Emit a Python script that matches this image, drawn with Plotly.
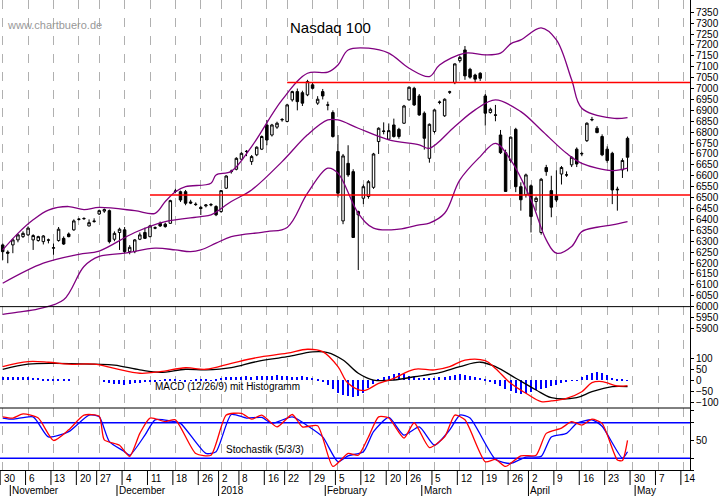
import pandas as pd
import plotly.graph_objects as go
from plotly.subplots import make_subplots

# ---------------- data ----------------
holidays = ["2017-11-23", "2017-12-25", "2018-01-01", "2018-01-15", "2018-02-19", "2018-03-30"]
opens = [6283,6250,6283,6306,6321,6329,6306,6303,6298,6306,6268,6303,6313,6333,6352,6400,6403,6370,6390,6425,6438,
         6440,6309,6340,6352,6252,6252,6309,6340,6321,6362,6382,6378,6382,6528,6527,6527,6480,6470,6455,6462,6466,6459,
         6436,6543,6619,6630,6676,6711,6665,6696,6722,6833,6787,6823,6856,6849,6948,6986,6981,6971,7017,6933,6986,6925,
         6890,6711,6393,6657,6619,6421,6497,6505,6547,6757,6803,6768,6833,6813,6841,6948,7001,6966,6887,
         6680,6803,6936,6875,6983,7027,7128,7177,7088,7062,7070,6966,6890,6879,6787,6706,6670,6813,6550,6513,
         6554,6482,6340,6638,6532,6508,6608,6604,6650,6722,6700,6761,6856,6818,6780,6722,6703,6535,6627,6772]
highs = [6290,6258,6312,6335,6345,6368,6332,6325,6328,6312,6290,6365,6322,6340,6400,6406,6410,6400,6405,6445,6450,
         6445,6345,6362,6365,6282,6310,6340,6362,6375,6368,6390,6385,6490,6540,6532,6535,6490,6478,6462,6470,6475,6465,
         6535,6602,6628,6685,6708,6718,6695,6735,6785,6856,6838,6848,6865,6930,6990,7000,6990,7040,7030,6965,6998,6940,
         6900,6787,6700,6740,6630,6440,6560,6580,6705,6822,6845,6840,6862,6820,6925,7010,7008,6975,6895,
         6840,6905,6945,6955,6990,7115,7150,7195,7095,7068,7075,6975,6912,6925,6810,6720,6780,6820,6570,6610,
         6560,6505,6590,6650,6600,6625,6645,6620,6690,6730,6710,6845,6870,6828,6790,6735,6710,6550,6680,6780]
lows = [6214,6199,6245,6295,6315,6325,6260,6298,6285,6290,6238,6298,6283,6318,6348,6395,6398,6368,6385,6420,6430,
        6290,6300,6260,6245,6240,6245,6305,6310,6318,6355,6365,6362,6380,6520,6480,6465,6470,6462,6420,6455,6460,6415,
        6430,6540,6610,6625,6670,6690,6650,6690,6718,6740,6780,6815,6848,6845,6940,6900,6920,6965,6995,6925,6950,6900,
        6775,6500,6378,6595,6315,6168,6470,6495,6540,6700,6790,6765,6775,6770,6838,6945,6920,6875,6720,
        6660,6795,6928,6870,6975,7020,7120,7040,7045,7030,7035,6830,6885,6850,6700,6528,6660,6525,6440,6500,
        6340,6440,6330,6600,6410,6480,6560,6595,6640,6640,6690,6755,6850,6795,6690,6660,6470,6440,6590,6620]
closes = [6252,6245,6306,6329,6336,6360,6326,6321,6324,6305,6270,6355,6287,6321,6393,6401,6404,6385,6392,6440,6445,
          6298,6336,6355,6252,6272,6306,6329,6313,6370,6360,6370,6367,6486,6530,6489,6474,6475,6468,6450,6466,6468,6421,
          6532,6599,6621,6680,6703,6712,6688,6731,6780,6764,6833,6841,6858,6925,6986,6940,6933,7032,7001,6951,6966,6924,
          6780,6520,6691,6604,6317,6436,6550,6573,6700,6818,6805,6807,6780,6780,6920,7006,6925,6879,6772,
          6836,6902,6938,6951,6985,7113,7143,7058,7052,7043,7047,6887,6905,6878,6706,6528,6777,6550,6490,6604,
          6413,6497,6584,6619,6456,6489,6638,6604,6685,6654,6702,6841,6858,6798,6696,6670,6535,6538,6670,6685]

# Bollinger bands (trading-day index, value)
bb_up_i = [0,3,6,9,13,16,19,26,30,32,34,36,41,42,45,49,55,60,64,66,68,72,76,80,84,86,91,95,98,100,102,106,109,112,114,120,123]
bb_up_v = [6260,6336,6398,6443,6459,6445,6455,6440,6428,6482,6527,6550,6566,6604,6620,6734,6948,7070,7075,7108,7177,7185,7162,7093,7055,7108,7162,7154,7162,7205,7223,7278,7223,7040,6910,6864,6867]
bb_mid_i = [0,8,15,19,26,32,39,41,45,49,55,60,64,66,70,76,82,84,89,93,97,102,106,111,114,120,123]
bb_mid_v = [6107,6199,6240,6255,6340,6390,6413,6421,6482,6535,6665,6788,6856,6856,6818,6765,6742,6726,6826,6902,6948,6894,6810,6703,6657,6624,6635]
bb_lo_i = [0,3,7,12,16,19,24,30,34,37,39,42,45,52,56,60,64,66,70,73,78,82,84,87,90,94,97,100,104,107,109,112,114,117,120,123]
bb_lo_v = [5965,5975,5990,6031,6184,6230,6245,6268,6260,6252,6260,6291,6321,6344,6363,6520,6635,6612,6428,6360,6355,6375,6383,6428,6581,6688,6749,6673,6490,6306,6245,6276,6344,6364,6375,6390]

# MACD
macd_i = [0,5,9,13,18,22,27,31,36,40,45,50,56,60,63,66,68,71,74,77,81,85,88,91,95,97,100,103,106,108,111,114,116,118,121,123]
macd_v = [63,86,83,74,74,55,33,40,58,51,78,104,124,142,131,63,-13,-46,-13,10,51,48,63,93,90,55,-13,-58,-96,-93,-81,-51,-10,-5,-25,-23]
sig_i = [0,5,10,18,22,27,31,36,40,45,50,56,61,64,67,70,73,77,81,86,90,94,97,101,105,108,113,116,120,123]
sig_v = [51,74,78,74,70,48,37,51,48,58,86,108,130,127,93,33,2,2,17,36,63,83,63,10,-43,-78,-78,-51,-28,-28]
hist = [15,15,16,17,15,14,13,12,8,5,4,3,3,3,
        0,0,0,0,0,0,
        -8,-10,-14,-18,-20,-15,-12,-10,-8,-5,
        -3,2,4,5,3,-2,-3,2,4,6,3,2,
        8,12,15,16,18,18,19,18,20,20,19,22,24,22,20,18,18,20,16,10,5,
        -5,-20,-40,-55,-65,-72,-75,-70,-55,-35,-15,
        5,15,22,30,33,28,20,15,
        12,10,10,12,15,18,22,25,28,25,22,18,10,5,
        -5,-15,-25,-38,-48,-55,-60,-58,-50,-45,-40,-35,-25,
        -20,-12,-5,-2,2,
        15,25,35,40,35,25,12,
        5,3,2]

# Stochastik
stk_i = [0,2,4,7,10,13,16,19,20,23,25,27,29,32,34,38,41,44,47,49,51,54,57,59,62,65,68,70,72,74,76,79,81,84,87,89,91,95,97,99,102,105,107,110,112,114,116,118,121,122,123]
stk_v = [90,88,95,88,50,68,93,91,51,42,23,62,88,82,85,28,25,93,96,86,93,73,94,73,75,6,28,25,56,90,88,54,80,38,56,93,85,14,18,6,24,25,62,71,82,76,86,79,17,16,50]
std_i = [0,2,6,9,13,17,19,21,24,25,28,30,33,35,40,42,45,48,51,53,57,60,63,66,68,71,73,76,79,82,85,88,90,92,97,100,103,106,108,111,113,116,118,122,123]
std_v = [88,86,90,56,65,93,90,48,31,25,59,85,83,79,28,31,94,88,89,79,90,75,56,14,24,31,65,89,59,73,42,68,93,88,18,11,22,23,56,62,79,85,74,20,31]

levels = [7028, 6512]
level_start = [56, 29]

months = ["November", "December", "2018", "February", "March", "April", "May"]
month_first = ["2017-11-01", "2017-12-01", "2018-01-02", "2018-02-01", "2018-03-01", "2018-04-02", "2018-05-01"]

# ---------------- build ----------------
all_days = pd.bdate_range("2017-10-30", "2018-05-31")
all_days = all_days[~all_days.isin(pd.to_datetime(holidays))]
pos = {d: i for i, d in enumerate(all_days)}
N = len(closes)
x = list(range(N))

tickvals, ticktext, prev_week = [], [], None
for d, i in pos.items():
    wk = d.isocalendar()[1]
    if wk != prev_week:
        tickvals.append(i)
        ticktext.append(str(d.day))
        prev_week = wk
    if i > 140:
        break

fig = make_subplots(rows=3, cols=1, shared_xaxes=True, vertical_spacing=0)
H = 470.0

fig.add_trace(go.Candlestick(x=x, open=opens, high=highs, low=lows, close=closes,
                             increasing=dict(line=dict(color="black", width=1), fillcolor="white"),
                             decreasing=dict(line=dict(color="black", width=1), fillcolor="black"),
                             whiskerwidth=0, showlegend=False), row=1, col=1)
for xi, yv in [(bb_up_i, bb_up_v), (bb_mid_i, bb_mid_v), (bb_lo_i, bb_lo_v)]:
    fig.add_trace(go.Scatter(x=xi, y=yv, mode="lines", line=dict(color="#800080", width=1.3, shape="spline"),
                             showlegend=False, hoverinfo="skip"), row=1, col=1)
for lv, st in zip(levels, level_start):
    fig.add_trace(go.Scatter(x=[st, 136], y=[lv, lv], mode="lines", line=dict(color="red", width=1.5),
                             showlegend=False), row=1, col=1)
fig.add_trace(go.Scatter(x=[-1, 136], y=[6000, 6000], mode="lines", line=dict(color="black", width=1),
                         showlegend=False), row=1, col=1)

fig.add_trace(go.Bar(x=x, y=hist, marker=dict(color="blue", line=dict(width=0)), width=0.25,
                     showlegend=False), row=2, col=1)
fig.add_trace(go.Scatter(x=sig_i, y=sig_v, mode="lines", line=dict(color="black", width=1.3, shape="spline"),
                         showlegend=False), row=2, col=1)
fig.add_trace(go.Scatter(x=macd_i, y=macd_v, mode="lines", line=dict(color="red", width=1.3, shape="spline"),
                         showlegend=False), row=2, col=1)

for lv in (80, 20):
    fig.add_trace(go.Scatter(x=[-1, 136], y=[lv, lv], mode="lines", line=dict(color="blue", width=1.5),
                             showlegend=False), row=3, col=1)
fig.add_trace(go.Scatter(x=std_i, y=std_v, mode="lines", line=dict(color="blue", width=1.3, shape="spline", smoothing=0.6),
                         showlegend=False), row=3, col=1)
fig.add_trace(go.Scatter(x=stk_i, y=stk_v, mode="lines", line=dict(color="red", width=1.3, shape="spline", smoothing=0.6),
                         showlegend=False), row=3, col=1)

font = "Liberation Sans, Arial, sans-serif"
xr = [-0.53, 135.3]
for r in (1, 2, 3):
    fig.update_xaxes(row=r, col=1, range=xr, tickvals=tickvals,
                     showgrid=True, gridcolor="#b0b0b0", griddash="dash", gridwidth=1,
                     zeroline=False, rangeslider_visible=False, showline=False,
                     showticklabels=False)
fig.update_xaxes(row=3, col=1, showline=True, linecolor="black", linewidth=1)

fig.update_yaxes(side="right", showgrid=False, zeroline=False, ticks="outside", ticklen=3,
                 tickcolor="black", showline=True, linecolor="black",
                 tickfont=dict(size=10, family=font, color="black"))
fig.update_yaxes(row=1, col=1, range=[5847, 7406], tickvals=list(range(5900, 7400, 50)),
                 domain=[130/H, 1])
fig.update_yaxes(row=2, col=1, range=[-125, 184], tickvals=[-100, -50, 0, 50, 100],
                 domain=[62/H, 130/H])
fig.update_yaxes(row=3, col=1, range=[0, 105], tickvals=[0, 20, 50, 80, 100],
                 ticktext=["", "", "50", "", ""], domain=[0, 62/H])

shapes = [dict(type="line", xref="paper", yref="paper", x0=0, x1=1, y0=62/H, y1=62/H,
               line=dict(color="black", width=1))]
annotations = [
    dict(text="Nasdaq 100", x=330/690, y=1 - 17/H, xref="paper", yref="paper", showarrow=False,
         font=dict(size=15, family=font, color="black")),
    dict(text="www.chartbuero.de", x=5/690, y=1 - 17/H, xref="paper", yref="paper", showarrow=False,
         xanchor="left", font=dict(size=11, family=font, color="#999999")),
    dict(text="MACD (12/26/9) mit Histogramm", x=153/690, y=(470-394)/H, xref="paper", yref="paper",
         showarrow=False, xanchor="left", font=dict(size=10, family=font, color="black")),
    dict(text="Stochastik (5/3/3)", x=224/690, y=(470-457)/H, xref="paper", yref="paper",
         showarrow=False, xanchor="left", bgcolor="white", borderpad=1,
         font=dict(size=10, family=font, color="black")),
]
for tv, tt in zip(tickvals, ticktext):
    annotations.append(dict(text=tt, x=tv - 0.2, y=-8/H, xref="x3", yref="paper", showarrow=False,
                            xanchor="left", yanchor="middle", font=dict(size=10, family=font, color="black")))
    shapes.append(dict(type="line", xref="x3", yref="paper", x0=tv - 0.5, x1=tv - 0.5, y0=0, y1=-15/H,
                       line=dict(color="black", width=1)))
for m, d in zip(months, month_first):
    i = pos[pd.Timestamp(d)]
    annotations.append(dict(text=m, x=i - 0.5, y=-20/H, xref="x3", yref="paper", showarrow=False,
                            xanchor="left", yanchor="middle", font=dict(size=10, family=font, color="black")))
    shapes.append(dict(type="line", xref="x3", yref="paper", x0=i - 0.5, x1=i - 0.5, y0=-15/H, y1=-26/H,
                       line=dict(color="black", width=1)))

fig.update_layout(width=723, height=496, margin=dict(l=0, r=33, t=0, b=26),
                  paper_bgcolor="white", plot_bgcolor="white", shapes=shapes, annotations=annotations,
                  bargap=0, showlegend=False)
fig.write_html("out.html", config={"displayModeBar": False},
               post_script="document.body.style.margin='0';document.body.style.padding='0';")
